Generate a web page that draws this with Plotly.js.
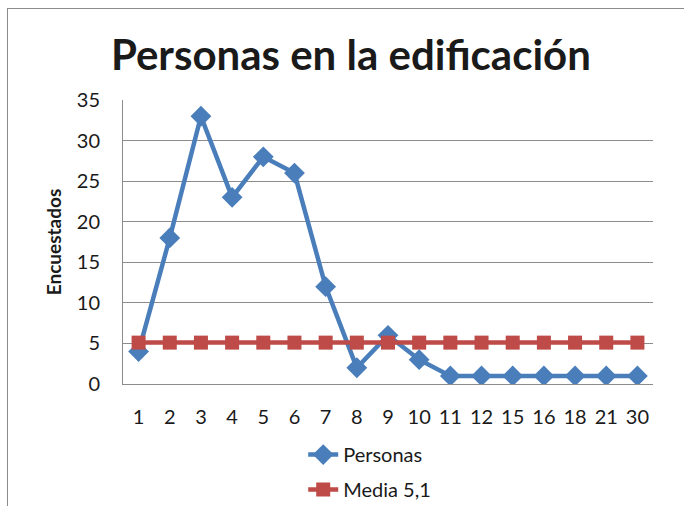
<!DOCTYPE html>
<html>
<head>
<meta charset="utf-8">
<script src="https://cdn.plot.ly/plotly-3.0.1.min.js"></script>
<style>
html,body{margin:0;padding:0;overflow:hidden;background:#fff;}
#wrap{position:relative;width:684px;height:506px;}
#chart{position:absolute;left:0;top:0;width:684px;height:506px;}
#frame{position:absolute;left:7px;top:8px;width:700px;height:600px;border:1px solid #8c8c8c;pointer-events:none;}
</style>
</head>
<body>
<div id="wrap"><div id="chart"></div><div id="frame"></div></div>
<script>
const categories = ["1","2","3","4","5","6","7","8","9","10","11","12","15","16","18","21","30"];
const personas = [4,18,33,23,28,26,12,2,6,3,1,1,1,1,1,1,1];
const media = [5.1,5.1,5.1,5.1,5.1,5.1,5.1,5.1,5.1,5.1,5.1,5.1,5.1,5.1,5.1,5.1,5.1];

const fontFam = "Lato, 'Open Sans', sans-serif";

const traces = [
  {x: categories, y: personas, name: "Personas", type: "scatter", mode: "lines+markers",
   line: {color: "#4a7ebb", width: 4.5}, marker: {symbol: "diamond", size: 16, color: "#4a7ebb"},
   legendgroup: "a"},
  {x: categories, y: media, name: "Media 5,1", type: "scatter", mode: "lines+markers",
   line: {color: "#be4b48", width: 4.5}, marker: {symbol: "square", size: 14, color: "#be4b48"},
   legendgroup: "b"}
];

const layout = {
  width: 684, height: 506,
  margin: {l: 123, r: 31, t: 100, b: 122, autoexpand: false},
  paper_bgcolor: "rgba(0,0,0,0)", plot_bgcolor: "#fff",
  font: {family: fontFam, color: "#1a1a1a", size: 20},
  title: {text: "<b>Personas en la edificación</b>", font: {size: 42, color: "#1a1a1a", family: fontFam},
          xref: "container", x: 0.513, xanchor: "center", yref: "container", y: 0.891, yanchor: "middle"},
  xaxis: {type: "category", showgrid: false, showline: true, linecolor: "#8c8c8c", linewidth: 1,
          ticks: "outside", ticklen: 15, tickcolor: "rgba(0,0,0,0)", tickfont: {size: 20},
          range: [-0.5, 16.5], fixedrange: true},
  yaxis: {range: [0, 35], dtick: 5, showgrid: true, gridcolor: "#8c8c8c", gridwidth: 1,
          showline: true, linecolor: "#8c8c8c", linewidth: 1, zeroline: false,
          ticks: "outside", ticklen: 18, tickcolor: "rgba(0,0,0,0)", tickfont: {size: 20},
          title: {text: "<b>Encuestados</b>", font: {size: 19}, standoff: 10}},
  showlegend: true,
  legend: {orientation: "v", x: 0.34, xanchor: "left", y: -0.18, yanchor: "top",
           traceorder: "grouped", tracegroupgap: 6, font: {size: 20}, bgcolor: "rgba(0,0,0,0)"}
};

Plotly.newPlot("chart", traces, layout, {displayModeBar: false, staticPlot: true});
</script>
</body>
</html>
